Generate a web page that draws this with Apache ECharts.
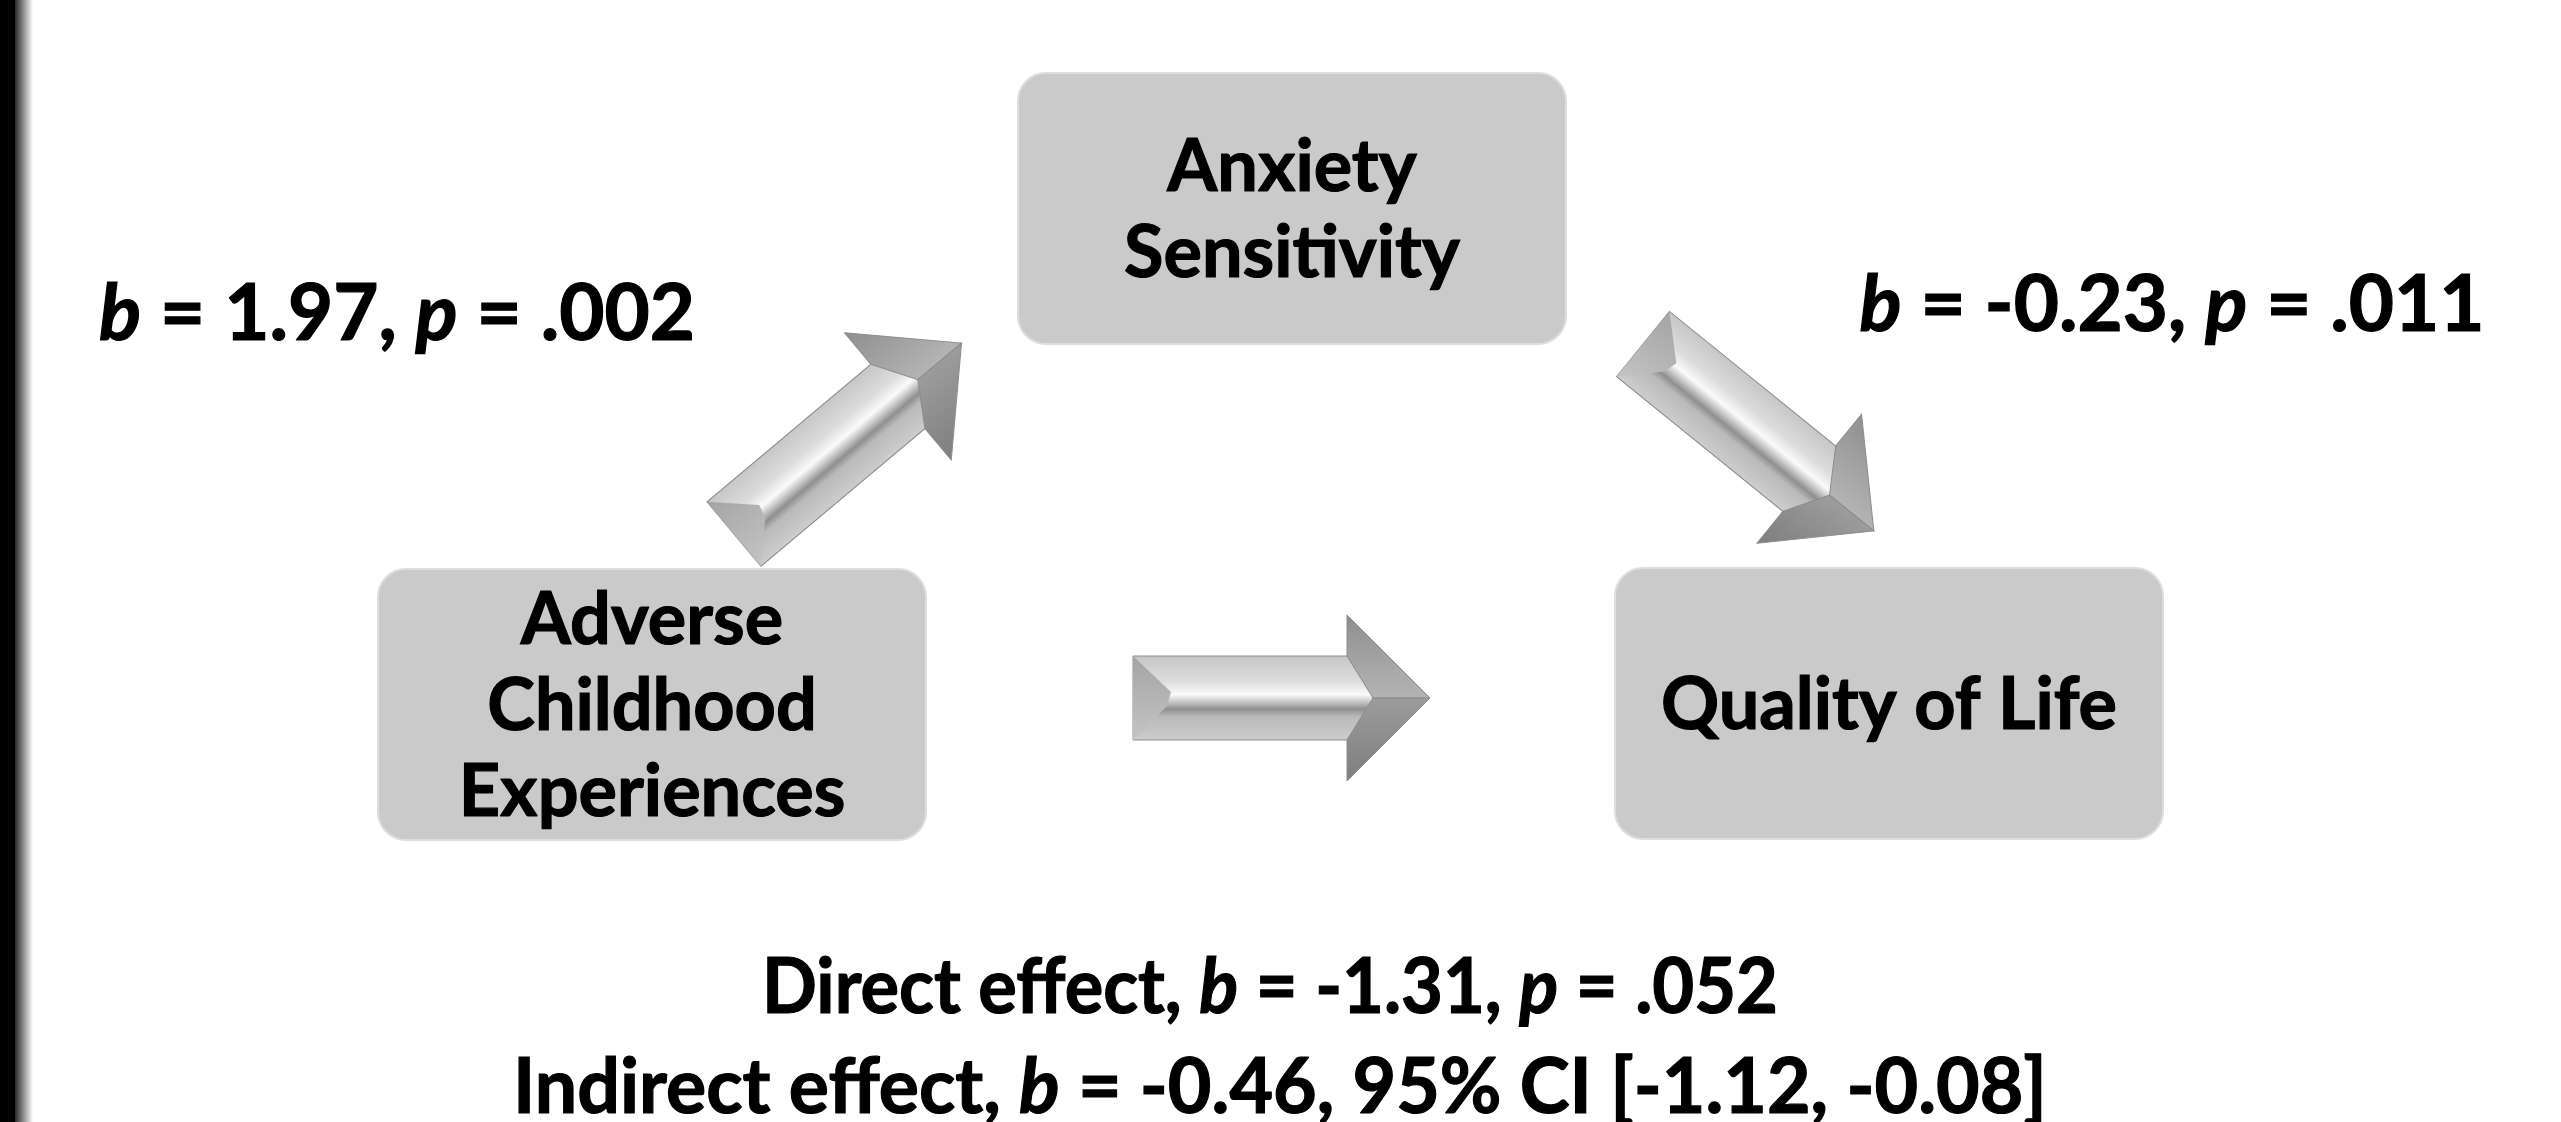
<!DOCTYPE html>
<html>
<head>
<meta charset="utf-8">
<title>Mediation model</title>
<script src="https://cdn.jsdelivr.net/npm/echarts@6/dist/echarts.min.js"></script>
<style>
    html,body{margin:0;padding:0;background:#fff;}
    #main{width:2561px;height:1122px;}
</style>
</head>
<body>
<div id="main"></div>
<script>
(function(){

    const G = function (id) {
        return document.getElementById(id);
    }

    var nodeNames = ['Adverse\nChildhood\nExperiences', 'Anxiety\nSensitivity', 'Quality of Life'];
    var pathA = [1.97, '.002'];                 //ACE -> AS  (b, p)
    var pathB = [-0.23, '.011'];                //AS -> QoL  (b, p)
    var directEffect = [-1.31, '.052'];         //b, p
    var indirectEffect = [-0.46, -1.12, -0.08]; //b, 95% CI low, high

    var FONT = 'Lato';
    var num = function (v) { return v.toFixed(2); };

    /**
     * rich text helper, {i|..} = italic
     * sx squeezes the line a little, Lato runs wider than the original face
     */
    var richText = function (x, y, text, size, sx) {
        return {
            type: 'text', x: x, y: y, scaleX: sx || 1,
            style: {
                text: text, x: 0, y: 0,
                align: 'center', verticalAlign: 'middle',
                textAlign: 'center', textVerticalAlign: 'middle',
                fontFamily: FONT, fontWeight: 'bold', fontSize: size, fill: '#000',
                stroke: '#000', lineWidth: 1.2,
                rich: {
                    i: {fontFamily: FONT, fontWeight: 'bold', fontStyle: 'italic', fontSize: size, fill: '#000'}
                }
            }
        };
    };

    /**
     * grey rounded box with centred label
     */
    var box = function (x, y, w, h, name) {
        return [{
            type: 'rect',
            shape: {x: x, y: y, width: w, height: h, r: 28},
            style: {fill: '#cacaca', stroke: '#dedede', lineWidth: 2}
        }, {
            type: 'text', x: x + w / 2, y: y + h / 2 + 2,
            style: {
                text: name, x: 0, y: 0,
                align: 'center', verticalAlign: 'middle',
                textAlign: 'center', textVerticalAlign: 'middle',
                fontFamily: FONT, fontWeight: 'bold', fontSize: 72, lineHeight: 86, fill: '#000',
                stroke: '#000', lineWidth: 1.2
            }
        }];
    };

    /**
     * bevelled silver arrow, drawn pointing right and then rotated
     */
    var arrow = function (cx, cy, deg) {
        var S = 214, a = 42, b = 83, H = 83, k = 26;
        var shaft = new echarts.graphic.LinearGradient(0, 0, 0, 1, [
            {offset: 0, color: '#c6c6c6'},
            {offset: 0.3, color: '#dcdcdc'},
            {offset: 0.46, color: '#fafafa'},
            {offset: 0.53, color: '#d0d0d0'},
            {offset: 0.63, color: '#8f8f8f'},
            {offset: 0.72, color: '#bababa'},
            {offset: 1, color: '#cdcdcd'}
        ]);
        var headTop = new echarts.graphic.LinearGradient(0, 0, 0, 1, [
            {offset: 0, color: '#8e8e8e'},
            {offset: 1, color: '#b4b4b4'}
        ]);
        var headLow = new echarts.graphic.LinearGradient(0, 0, 0, 1, [
            {offset: 0, color: '#9c9c9c'},
            {offset: 1, color: '#7e7e7e'}
        ]);
        var tail = new echarts.graphic.LinearGradient(0, 0, 0, 1, [
            {offset: 0, color: '#a4a4a4'},
            {offset: 1, color: '#c4c4c4'}
        ]);
        return {
            type: 'group', x: cx, y: cy, rotation: deg * Math.PI / 180,
            children: [
                {type: 'polygon', shape: {points: [[0, -a], [S + k, -a], [S + k, a], [0, a]]},
                    style: {fill: shaft, stroke: '#8c8c8c', lineWidth: 1}},
                {type: 'polygon', shape: {points: [[0, -a], [38, -6], [34, 8], [0, a]]},
                    style: {fill: tail}},
                {type: 'polygon', shape: {points: [[S, -b], [S + H, 0], [S + k, 0], [S, -a]]},
                    style: {fill: headTop, stroke: '#8c8c8c', lineWidth: 1}},
                {type: 'polygon', shape: {points: [[S, b], [S + H, 0], [S + k, 0], [S, a]]},
                    style: {fill: headLow, stroke: '#8c8c8c', lineWidth: 1}}
            ]
        };
    };

    var graphics = [];

    //black strip on the left edge
    graphics.push({type: 'rect', shape: {x: 0, y: 0, width: 15, height: 1122}, style: {fill: '#000'}});
    graphics.push({type: 'rect', shape: {x: 15, y: 0, width: 18, height: 1122},
        style: {fill: new echarts.graphic.LinearGradient(0, 0, 1, 0, [
            {offset: 0, color: '#2a2a2a'}, {offset: 1, color: '#ffffff'}
        ])}});

    graphics = graphics.concat(box(378, 569, 548, 271, nodeNames[0]));
    graphics = graphics.concat(box(1018, 73, 548, 271, nodeNames[1]));
    graphics = graphics.concat(box(1615, 568, 548, 271, nodeNames[2]));

    graphics.push(arrow(734, 534, 40));
    graphics.push(arrow(1643, 344, -39));
    graphics.push(arrow(1133, 698, 0));

    graphics.push(richText(397, 315, '{i|b} = ' + num(pathA[0]) + ', {i|p} = ' + pathA[1], 78));
    graphics.push(richText(2172, 306, '{i|b} = ' + num(pathB[0]) + ', {i|p} = ' + pathB[1], 78));
    graphics.push(richText(1270, 988, 'Direct effect, {i|b} = ' + num(directEffect[0]) + ', {i|p} = ' + directEffect[1], 76, 0.95));
    graphics.push(richText(1280, 1088, 'Indirect effect, {i|b} = ' + num(indirectEffect[0]) +
        ', 95% CI [' + num(indirectEffect[1]) + ', ' + num(indirectEffect[2]) + ']', 76, 0.99));

    var chart = echarts.init(G('main'));
    chart.setOption({
        backgroundColor: '#fff',
        animation: false,
        graphic: graphics
    });

})();
</script>
</body>
</html>
